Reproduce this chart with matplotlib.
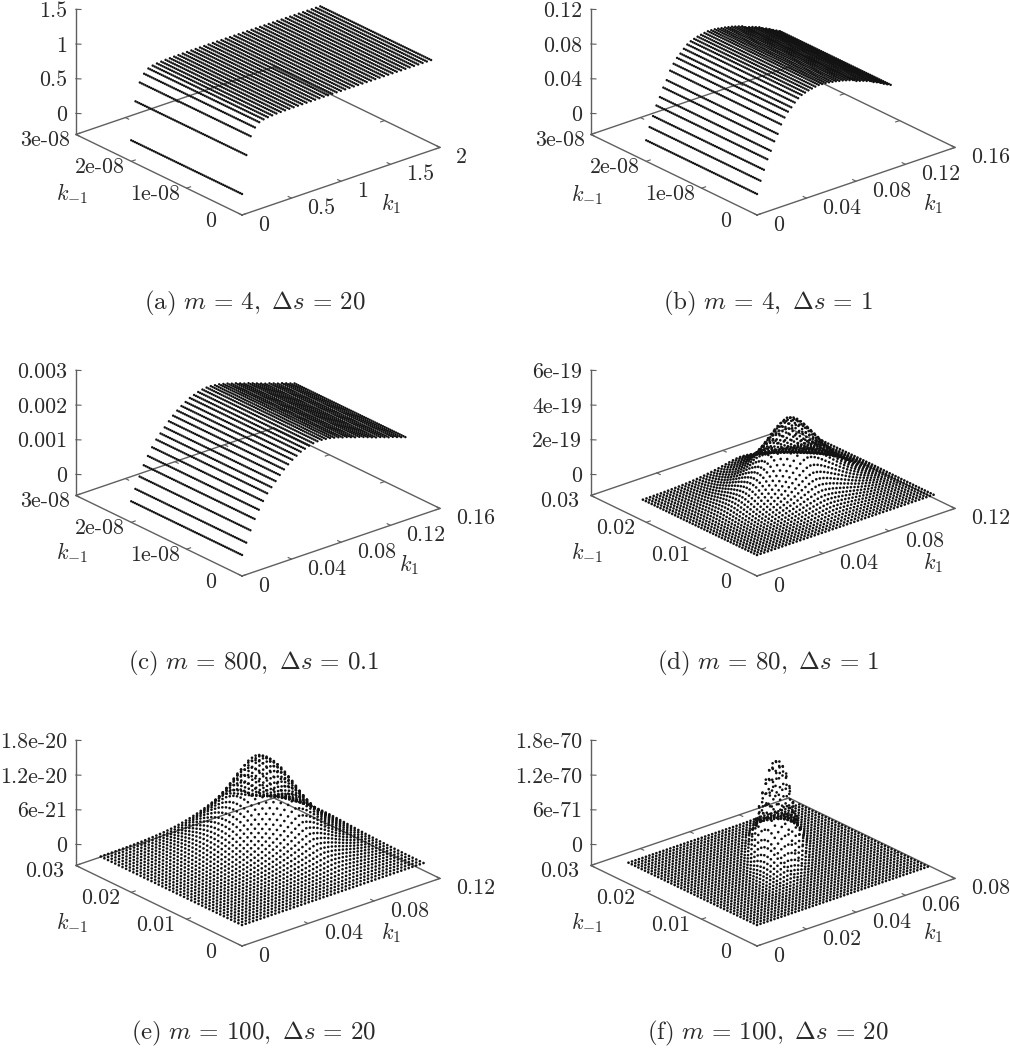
import numpy as np
import matplotlib
matplotlib.use('Agg')
import matplotlib.pyplot as plt
from mpl_toolkits.mplot3d import proj3d

plt.rcParams['font.family'] = ['cmr10', 'DejaVu Sans']
plt.rcParams['mathtext.fontset'] = 'cm'
plt.rcParams['axes.formatter.use_mathtext'] = True

W, H = 1010, 1050
LINE = '#5f5f5f'
TXT = '#2a2a2a'

# profiles. surfaces are taken as a product of two profiles
# (a)-(c) do not change along k_-1
z_k1_a = [0, .54, .79, .895, .95, .97, .98, .985, .99, .992, .994, .995, .996, .997, .998, .998, .999, .999,
          1, 1, 1, 1, 1, 1, 1, 1, 1, 1, 1, 1, 1, 1, 1, 1, 1, 1, 1, 1, 1, 1, 1, 1, 1, 1, 1]
z_k1_b = [0, .0139, .0252, .036, .0444, .054, .0612, .0708, .0774, .0828, .0864, .0906, .0942, .0966, .098,
          .0992, .1, .1008, .1014, .1012, .101, .1004, .0996, .099, .098, .0972, .096, .0948, .0936, .0912,
          .09, .0888, .0872, .0858, .0832, .0816, .0796, .0772, .0752, .0732]
z_k1_c = [0, .000315, .00063, .000915, .00114, .00135, .00153, .001665, .0018, .001935, .002055, .00216, .00225,
          .002325, .0024, .002445, .00249, .00252, .002535, .002535, .00252, .002505, .002475, .002445, .0024,
          .00237, .002325, .00228, .00225, .002205, .00216, .002115, .00207, .00204, .001995, .00195, .00192,
          .001875, .00183, .00179]
f_k1_d = [0, .002, .005, .009, .014, .021, .03, .041, .055, .071, .09, .112, .137, .165, .2, .24, .285, .335, .39,
          .45, .515, .59, .67, .75, .83, .91, .97, 1, .985, .95, .9, .84, .775, .71, .645, .58, .515, .45, .39, .335,
          .285, .24, .195, .155, .12, .09, .06, .04, .02, .005]
g_km_d = [0, .005, .012, .02, .03, .043, .06, .08, .105, .135, .17, .215, .27, .33, .40, .48, .57, .67, .77, .86,
          .94, .985, 1, .98, .93, .87, .80, .72, .64, .56, .49, .42, .36, .31, .27, .23, .20, .17, .15, .13]
f_k1_e = [0, .001, .003, .005, .007, .01, .014, .018, .023, .03, .037, .046, .056, .068, .082, .097, .115, .135, .16,
          .187, .218, .253, .295, .34, .39, .445, .50, .565, .635, .71, .79, .87, .95, 1, .975, .93, .87, .79, .71,
          .62, .535, .455, .38, .31, .25, .195, .145, .105, .07, .04]
g_km_e = [0, .004, .008, .014, .022, .032, .044, .058, .075, .095, .118, .145, .175, .21, .25, .295, .345, .40, .46,
          .53, .60, .675, .75, .82, .885, .94, .975, .995, 1, .99, .96, .91, .85, .77, .69, .60, .51, .42, .33, .26]
# (f) ridge runs across the grid, so its two profiles follow the grid along and across it
p_sum_f = [0, .001, .003, .005, .008, .011, .015, .022, .03, .04, .05, .065, .08, .10, .12, .15, .18, .22, .26, .31,
           .36, .42, .48, .55, .62, .70, .78, .86, .92, .97, 1, .99, .96, .89, .80, .70, .60, .51, .42, .34, .27,
           .21, .16, .12, .09, .07, .05, .036, .025, .017, .012, .008, .005, .003, .002, .001, 0]
q_half_f = [1, .997, .99, .98, .965, .945, .92, .89, .855, .815, .77, .72, .67, .62, .565, .51, .455, .40, .35, .30,
            .25, .205, .165, .13, .10, .075, .055, .04, .027, .017, .01, .005]
peak_d, peak_e, peak_f = 4.2e-19, 1.35e-20, 1.5e-70
sum_start_f, diff_center_f = 20, 19

k1_end = [1.91, .108, .132, .107, .11, .069]
km_end = [2e-8, 2e-8, 2e-8, .0206, .0255, .0232]
k1_max = [2, .16, .16, .12, .12, .08]
km_max = [3e-8, 3e-8, 3e-8, .03, .03, .03]
z_max = [1.5, .12, .003, 6e-19, 1.8e-20, 1.8e-70]

k1_ticks = [[0, .5, 1, 1.5, 2], [0, .04, .08, .12, .16], [0, .04, .08, .12, .16],
            [0, .04, .08, .12], [0, .04, .08, .12], [0, .02, .04, .06, .08]]
k1_labels = [['0', '0.5', '1', '1.5', '2'], ['0', '0.04', '0.08', '0.12', '0.16'], ['0', '0.04', '0.08', '0.12', '0.16'],
             ['0', '0.04', '0.08', '0.12'], ['0', '0.04', '0.08', '0.12'], ['0', '0.02', '0.04', '0.06', '0.08']]
km_labels = [['0', '1e-08', '2e-08', '3e-08']] * 3 + [['0', '0.01', '0.02', '0.03']] * 3
z_ticks = [[0, .5, 1, 1.5], [0, .04, .08, .12], [0, .001, .002, .003],
           [0, 2e-19, 4e-19, 6e-19], [0, 6e-21, 1.2e-20, 1.8e-20], [0, 6e-71, 1.2e-70, 1.8e-70]]
z_labels = [['0', '0.5', '1', '1.5'], ['0', '0.04', '0.08', '0.12'], ['0', '0.001', '0.002', '0.003'],
            ['0', '2e-19', '4e-19', '6e-19'], ['0', '6e-21', '1.2e-20', '1.8e-20'], ['0', '6e-71', '1.2e-70', '1.8e-70']]
captions = [r'$\mathrm{(a)}\ m\,=\,4,\ \Delta s\,=\,20$', r'$\mathrm{(b)}\ m\,=\,4,\ \Delta s\,=\,1$',
            r'$\mathrm{(c)}\ m\,=\,800,\ \Delta s\,=\,0.1$', r'$\mathrm{(d)}\ m\,=\,80,\ \Delta s\,=\,1$',
            r'$\mathrm{(e)}\ m\,=\,100,\ \Delta s\,=\,20$', r'$\mathrm{(f)}\ m\,=\,100,\ \Delta s\,=\,20$']

# pixel layout
fronts = [(242, 215), (757, 215), (242, 576), (757, 576), (242, 946), (757, 946)]
rights = [(440, 147), (955, 147), (440, 508), (955, 507), (440, 878), (955, 878)]
cap_pos = [(255, 303), (768, 303), (254, 663), (768, 663), (254, 1033), (768, 1033)]
k1_lab_dx = [149, 176, 167, 176, 149, 176]
k1_lab_dy = [-11, -11, -11, -13, -13, -13]
km_lab_dy = [-21, -20, -23, -23, -23, -23]
dot_size = [3.0, 3.0, 3.0, 3.6, 3.6, 3.6]


def surface(n):
    if n == 0:
        return np.repeat(np.array(z_k1_a)[:, None], 60, axis=1)
    if n == 1:
        return np.repeat(np.array(z_k1_b)[:, None], 60, axis=1)
    if n == 2:
        return np.repeat(np.array(z_k1_c)[:, None], 60, axis=1)
    if n == 3:
        return peak_d * np.outer(f_k1_d, g_km_d)
    if n == 4:
        return peak_e * np.outer(f_k1_e, g_km_e)
    zz = np.zeros((50, 40))
    for i in range(50):
        for j in range(40):
            a = round(0.8 * i) + j - sum_start_f
            b = abs(round(3.2 * i - 3 * j) - diff_center_f)
            if 0 <= a < len(p_sum_f) and b < len(q_half_f):
                zz[i, j] = peak_f * p_sum_f[a] * q_half_f[b]
    return zz


def corner_px(ax, x, y, z):
    x2, y2, _ = proj3d.proj_transform(x, y, z, ax.get_proj())
    ax.apply_aspect()
    return ax.transData.transform((x2, y2))


def place(ax, n, zmin):
    size = 500.0
    ax.set_position([0.2, 0.2, size / W, size / H])
    a = corner_px(ax, 0, 0, zmin)
    b = corner_px(ax, k1_max[n], 0, zmin)
    size = size * (rights[n][0] - fronts[n][0]) / (b[0] - a[0])
    ax.set_position([0.2, 0.2, size / W, size / H])
    a = corner_px(ax, 0, 0, zmin)
    dx = fronts[n][0] - a[0]
    dy = (H - fronts[n][1]) - a[1]
    ax.set_position([0.2 + dx / W, 0.2 + dy / H, size / W, size / H])


def label(ax, s, xyz, dx, dy, ha='center', size=15.8):
    # dx, dy pixels right and down from the projected point
    x2, y2, _ = proj3d.proj_transform(xyz[0], xyz[1], xyz[2], ax.get_proj())
    ax.annotate(s, (x2, y2), xytext=(dx * 0.72, -dy * 0.72), textcoords='offset points', ha=ha, va='center',
                fontsize=size, color=TXT, annotation_clip=False)


fig = plt.figure(figsize=(W / 100, H / 100), dpi=100)

for n in range(6):
    ax = fig.add_subplot(projection='3d', proj_type='ortho', computed_zorder=False)
    ax.view_init(elev=24, azim=-130)
    ax.set_box_aspect((1, 1, 0.53))
    ax.set_axis_off()
    xm, ym, zm = k1_max[n], km_max[n], z_max[n]
    zmin = -zm * 21 / 104
    ax.set_xlim(0, xm)
    ax.set_ylim(0, ym)
    ax.set_zlim(zmin, zm)
    place(ax, n, zmin)

    zz = surface(n)
    k1 = np.linspace(0, k1_end[n], zz.shape[0])
    km = np.linspace(0, km_end[n], zz.shape[1])
    X, Y = np.meshgrid(k1, km, indexing='ij')

    # base frame and z axis
    ax.plot([0, xm, xm, 0, 0], [0, 0, ym, ym, 0], [zmin] * 5, color=LINE, lw=1.0, zorder=1, clip_on=False)
    ax.plot([0, 0], [ym, ym], [zmin, zm], color=LINE, lw=1.0, zorder=1, clip_on=False)
    # one colour per dot: a single colour goes through draw_markers, which puts dots on whole pixels
    dot_colors = np.tile([0.07, 0.07, 0.07, 1.0], (X.size, 1))
    ax.scatter(X.ravel(), Y.ravel(), zz.ravel(), s=dot_size[n], c=dot_colors, marker='o', linewidths=0,
               depthshade=False, zorder=2, clip_on=False)

    for t, s in zip(k1_ticks[n], k1_labels[n]):
        ax.plot([t, t], [0, 0.02 * ym], [zmin, zmin], color=LINE, lw=0.8, zorder=1)
        ax.plot([t, t], [ym, 0.98 * ym], [zmin, zmin], color=LINE, lw=0.8, zorder=1)
        label(ax, s, (t, 0, zmin), 16, 10, ha='left')
    for t, s in zip(np.linspace(0, ym, 4), km_labels[n]):
        ax.plot([0, 0.02 * xm], [t, t], [zmin, zmin], color=LINE, lw=0.8, zorder=1)
        ax.plot([xm, 0.98 * xm], [t, t], [zmin, zmin], color=LINE, lw=0.8, zorder=1)
        label(ax, s, (0, t, zmin), -31, 6)
    for t, s in zip(z_ticks[n], z_labels[n]):
        ax.plot([0, 0.014 * xm], [ym, 0.986 * ym], [t, t], color=LINE, lw=0.8, zorder=1)
        label(ax, s, (0, ym, t), -9, 2, ha='right')

    label(ax, r'$k_1$', (0, 0, zmin), k1_lab_dx[n], k1_lab_dy[n], size=16)
    label(ax, r'$k_{-1}$', (0, 0, zmin), -170, km_lab_dy[n], size=16)
    fig.text(cap_pos[n][0] / W, 1 - cap_pos[n][1] / H, captions[n], ha='center', va='center', fontsize=18, color=TXT)

fig.savefig('out.png', dpi=100)
